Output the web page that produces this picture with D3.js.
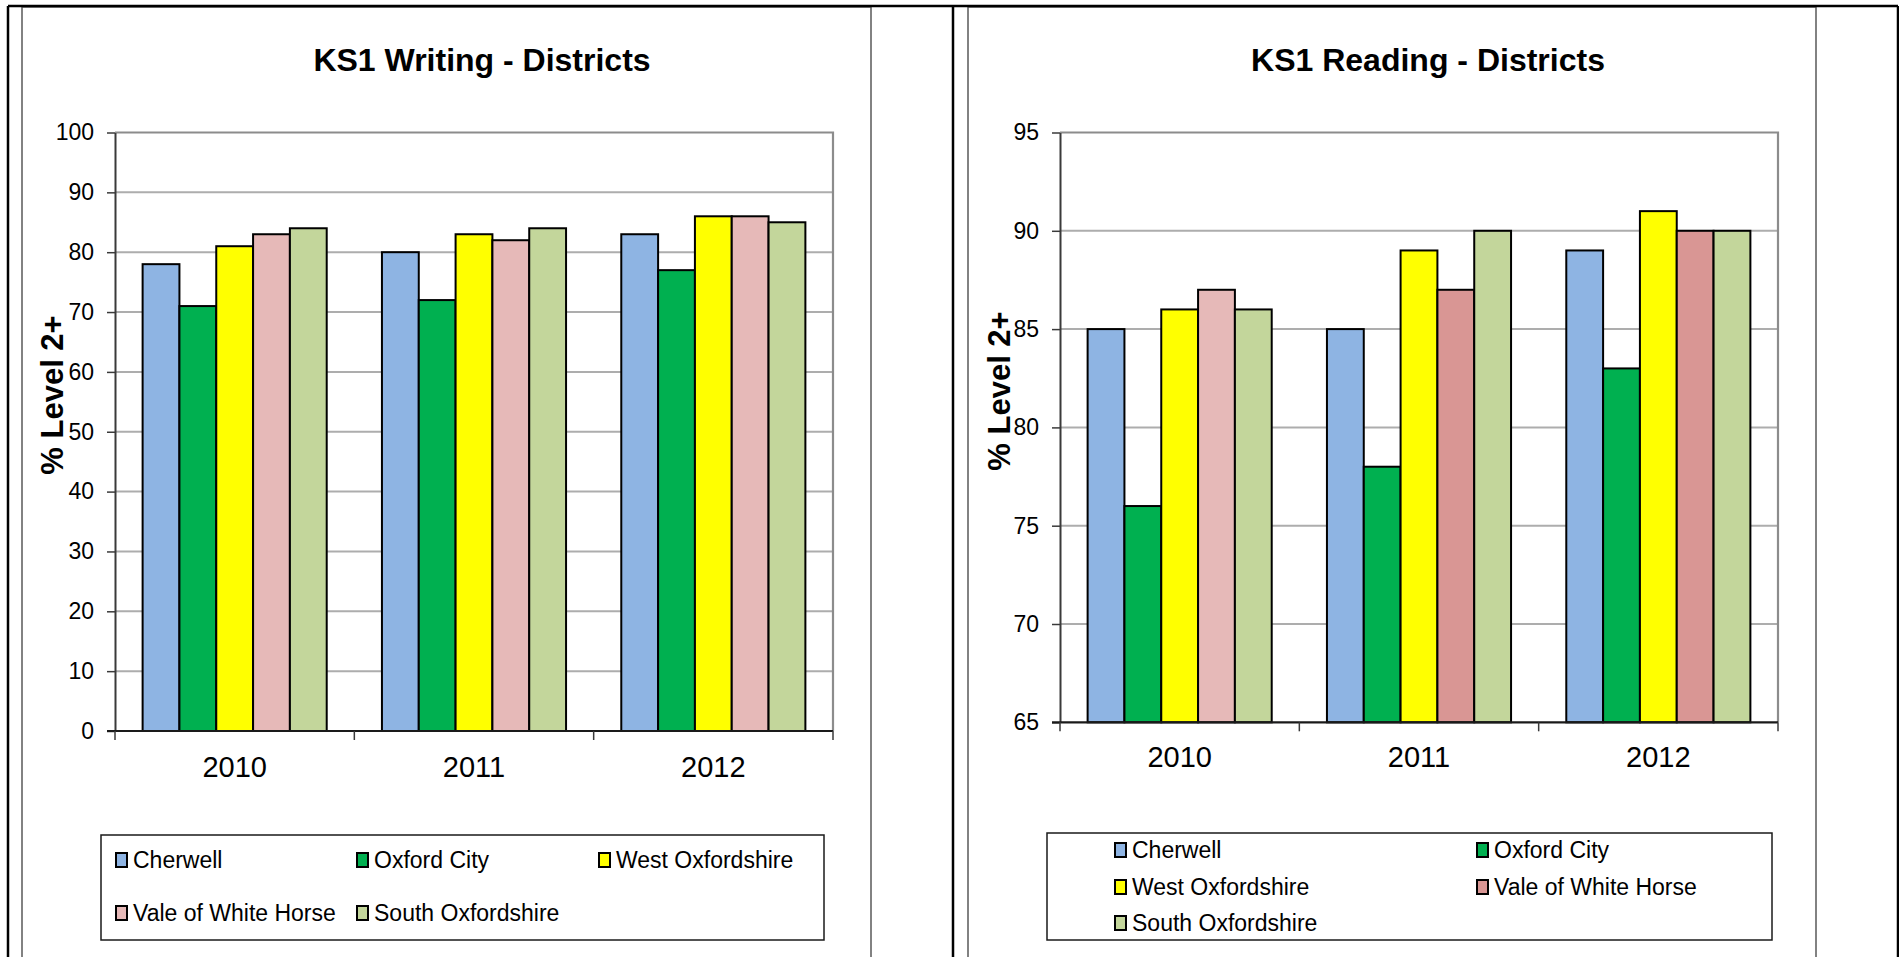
<!DOCTYPE html>
<html>
<head>
<meta charset="utf-8">
<script src="https://cdn.jsdelivr.net/npm/d3@7/dist/d3.min.js"></script>
<style>
  html, body { margin: 0; padding: 0; background: #fff; }
  svg { display: block; }
  text { font-family: "Liberation Sans", Arial, sans-serif; fill: #000; }
</style>
</head>
<body>
<svg id="root" width="1899" height="957"></svg>
<script>
// ---------- DATA ----------
const years = ["2010", "2011", "2012"];
const districts = ["Cherwell", "Oxford City", "West Oxfordshire", "Vale of White Horse", "South Oxfordshire"];

// KS1 Writing (% Level 2+), one array per district, values for 2010, 2011, 2012
const writingCherwell   = [78, 80, 83];
const writingOxfordCity = [71, 72, 77];
const writingWestOxon   = [81, 83, 86];
const writingVale       = [83, 82, 86];
const writingSouthOxon  = [84, 84, 85];

// KS1 Reading (% Level 2+)
const readingCherwell   = [85, 85, 89];
const readingOxfordCity = [76, 78, 83];
const readingWestOxon   = [86, 89, 91];
const readingVale       = [87, 87, 90];
const readingSouthOxon  = [86, 90, 90];

const writingTicks = [0, 10, 20, 30, 40, 50, 60, 70, 80, 90, 100];
const readingTicks = [65, 70, 75, 80, 85, 90, 95];

// ---------- STYLE ----------
const colorsWriting = ["#8EB4E3", "#00B050", "#FFFF00", "#E6B9B8", "#C3D69B"];
const colorsReading = ["#8EB4E3", "#00B050", "#FFFF00", "#D99694", "#C3D69B"];

const charts = [
  {
    title: "KS1 Writing - Districts",
    series: [writingCherwell, writingOxfordCity, writingWestOxon, writingVale, writingSouthOxon],
    ticks: writingTicks,
    colors: colorsWriting,
    pointColor: (s, yi) => colorsWriting[s],
    frame: { x0: 22, x1: 871 },
    plot: { left: 115, right: 833, top: 132.5, bottom: 731 },
    titleX: 482, titleY: 71,
    yTitleX: 63, yTitleY: 395,
    labelGap: 25,
    legend: { x0: 101, x1: 824, y0: 835, y1: 940, cols: [116, 357, 599], rows: [860, 913], ncol: 3 }
  },
  {
    title: "KS1 Reading - Districts",
    series: [readingCherwell, readingOxfordCity, readingWestOxon, readingVale, readingSouthOxon],
    ticks: readingTicks,
    colors: colorsReading,
    // the 2010 "Vale of White Horse" bar is drawn in the lighter pink
    pointColor: (s, yi) => (s === 3 && yi === 0) ? colorsWriting[3] : colorsReading[s],
    frame: { x0: 968, x1: 1816 },
    plot: { left: 1060, right: 1778, top: 132.5, bottom: 722.3 },
    titleX: 1428, titleY: 71,
    yTitleX: 1010, yTitleY: 391,
    labelGap: 24,
    legend: { x0: 1047, x1: 1772, y0: 833, y1: 940, cols: [1115, 1477], rows: [850, 887, 923], ncol: 2 }
  }
];

const svg = d3.select("#root");

// ---------- TABLE / FRAMES ----------
charts.forEach(c => {
  svg.append("rect")
    .attr("x", c.frame.x0).attr("y", 7)
    .attr("width", c.frame.x1 - c.frame.x0).attr("height", 1000)
    .attr("fill", "#fff").attr("stroke", "#595959").attr("stroke-width", 1.5);
});
const tableLines = [
  [8, 6, 1898, 6],
  [8, 6, 8, 957],
  [953, 6, 953, 957],
  [1898, 6, 1898, 957]
];
svg.selectAll("line.table").data(tableLines).enter().append("line")
  .attr("class", "table")
  .attr("x1", d => d[0]).attr("y1", d => d[1]).attr("x2", d => d[2]).attr("y2", d => d[3])
  .attr("stroke", "#000").attr("stroke-width", 2.5);

// ---------- CHARTS ----------
charts.forEach(c => {
  const g = svg.append("g");
  const P = c.plot;
  const ext = d3.extent(c.ticks);
  const y = d3.scaleLinear().domain(ext).range([P.bottom, P.top]);
  const x = d3.scaleBand().domain(years).range([P.left, P.right])
    .paddingInner(1.5 / 6.5).paddingOuter(0.75 / 6.5);
  const xs = d3.scaleBand().domain(d3.range(districts.length)).range([0, x.bandwidth()]);

  // gridlines
  g.append("g").selectAll("line").data(c.ticks.filter(t => t !== ext[0] && t !== ext[1])).enter()
    .append("line")
    .attr("x1", P.left).attr("x2", P.right)
    .attr("y1", d => y(d)).attr("y2", d => y(d))
    .attr("stroke", "#ADADAD").attr("stroke-width", 2);

  // plot border top & right
  g.append("path")
    .attr("d", `M${P.left},${y(ext[1])}H${P.right}V${P.bottom}`)
    .attr("fill", "none").attr("stroke", "#8C8C8C").attr("stroke-width", 2.2);

  // bars
  const barData = [];
  c.series.forEach((vals, s) => vals.forEach((v, yi) => barData.push({ s, yi, v })));
  g.append("g").selectAll("rect").data(barData).enter().append("rect")
    .attr("x", d => x(years[d.yi]) + xs(d.s))
    .attr("width", xs.bandwidth())
    .attr("y", d => y(d.v))
    .attr("height", d => y(ext[0]) - y(d.v))
    .attr("fill", d => c.pointColor(d.s, d.yi))
    .attr("stroke", "#000").attr("stroke-width", 2);

  // y axis
  const yAxis = d3.axisLeft(y).tickValues(c.ticks).tickSize(8).tickPadding(13).tickSizeOuter(0);
  const ya = g.append("g").attr("transform", `translate(${P.left},0)`).call(yAxis);
  ya.select(".domain").attr("stroke", "#3A3A3A").attr("stroke-width", 2);
  ya.selectAll(".tick line").attr("stroke", "#3A3A3A").attr("stroke-width", 1.5);
  ya.selectAll(".tick text").attr("font-size", 23).attr("font-family", "Liberation Sans, Arial, sans-serif").attr("fill", "#000");

  // x axis (labels)
  const xAxis = d3.axisBottom(x).tickSize(0).tickPadding(c.labelGap).tickSizeOuter(0);
  const xa = g.append("g").attr("transform", `translate(0,${P.bottom})`).call(xAxis);
  xa.select(".domain").remove();
  xa.selectAll(".tick text").attr("font-size", 29).attr("font-family", "Liberation Sans, Arial, sans-serif").attr("fill", "#000");
  // x baseline
  g.append("line").attr("x1", P.left - 8).attr("x2", P.right)
    .attr("y1", P.bottom).attr("y2", P.bottom)
    .attr("stroke", "#1A1A1A").attr("stroke-width", 2.2);
  // category boundary ticks
  const bounds = d3.range(years.length + 1).map(i => P.left + i * x.step());
  g.append("g").selectAll("line").data(bounds).enter().append("line")
    .attr("x1", d => d).attr("x2", d => d)
    .attr("y1", P.bottom).attr("y2", P.bottom + 9)
    .attr("stroke", "#3A3A3A").attr("stroke-width", 1.5);

  // titles
  g.append("text").attr("x", c.titleX).attr("y", c.titleY)
    .attr("text-anchor", "middle").attr("font-size", 32).attr("font-weight", "bold")
    .text(c.title);
  g.append("text")
    .attr("transform", `translate(${c.yTitleX},${c.yTitleY}) rotate(-90)`)
    .attr("text-anchor", "middle").attr("font-size", 31).attr("font-weight", "bold")
    .text("% Level 2+");

  // legend
  const L = c.legend;
  g.append("rect").attr("x", L.x0).attr("y", L.y0)
    .attr("width", L.x1 - L.x0).attr("height", L.y1 - L.y0)
    .attr("fill", "#fff").attr("stroke", "#1A1A1A").attr("stroke-width", 1.5);
  const items = g.append("g").selectAll("g").data(districts).enter().append("g")
    .attr("transform", (d, i) => `translate(${L.cols[i % L.ncol]},${L.rows[Math.floor(i / L.ncol)]})`);
  items.append("rect").attr("x", 0).attr("y", -7).attr("width", 11).attr("height", 14)
    .attr("fill", (d, i) => c.colors[i]).attr("stroke", "#000").attr("stroke-width", 2);
  items.append("text").attr("x", 17).attr("y", 0).attr("dy", "0.35em")
    .attr("font-size", 23).text(d => d);
});
</script>
</body>
</html>
